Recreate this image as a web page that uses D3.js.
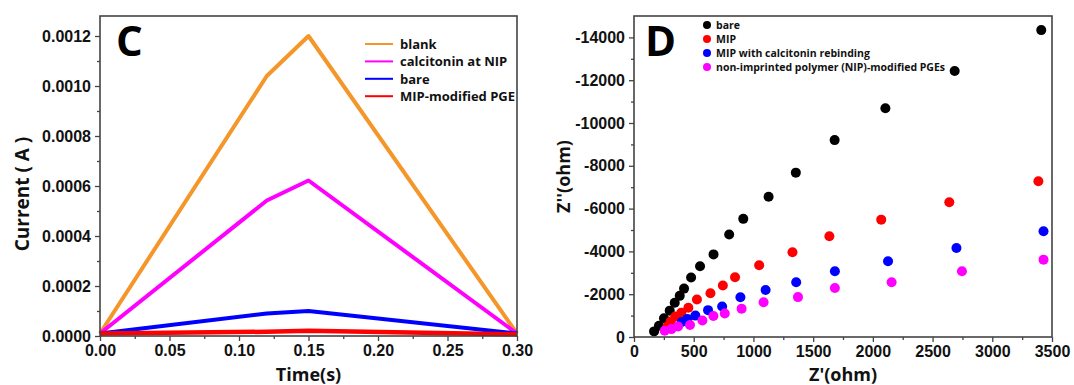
<!DOCTYPE html>
<html><head><meta charset="utf-8">
<script src="https://cdn.jsdelivr.net/npm/d3@7"></script>
<style>
body{margin:0;background:#fff;}
svg{display:block;font-family:"Open Sans",sans-serif;}
.tick text{font-weight:bold;}
</style></head>
<body>
<svg id="chart" width="1074" height="385"></svg>
<script>
// ---- Panel C data ----
const timeSeriesNames = ["blank", "calcitonin at NIP", "bare", "MIP-modified PGE"];
const timeSeriesColors = ["#f5962a", "#ff00ff", "#0000ff", "#ff0000"];
const blankCurrent = [[0, 0.00001], [0.12, 0.00104], [0.15, 0.0012], [0.30, 0.00001]];
const nipCurrent = [[0, 0.00001], [0.12, 0.000542], [0.15, 0.000622], [0.30, 0.00001]];
const bareCurrent = [[0, 0.00001], [0.12, 0.00009], [0.15, 0.0001], [0.30, 0.00001]];
const mipCurrent = [[0, 0.00001], [0.12, 0.000017], [0.15, 0.000021], [0.30, 0.000007]];
const timeTicks = [0, 0.05, 0.10, 0.15, 0.20, 0.25, 0.30];
const currentTicks = [0, 0.0002, 0.0004, 0.0006, 0.0008, 0.0010, 0.0012];

// ---- Panel D data (Z', Z'') ----
const eisSeriesNames = ["bare", "MIP", "MIP with calcitonin rebinding", "non-imprinted polymer (NIP)-modified PGEs"];
const eisSeriesColors = ["#000000", "#ff0000", "#0000ff", "#ff00ff"];
const eisBare = [[168,-262],[209,-523],[251,-877],[299,-1231],[341,-1600],[383,-1923],[419,-2262],[478,-2780],[553,-3310],[666,-3860],[797,-4790],[915,-5520],[1127,-6550],[1355,-7680],[1680,-9200],[2105,-10690],[2685,-12430],[3410,-14340]];
const eisMip = [[279,-492],[307,-723],[346,-954],[397,-1138],[455,-1370],[527,-1750],[640,-2045],[744,-2410],[846,-2790],[1048,-3355],[1327,-3962],[1636,-4712],[2070,-5484],[2640,-6300],[3386,-7274]];
const eisRebind = [[400,-700],[447,-846],[514,-1000],[620,-1255],[738,-1425],[891,-1855],[1102,-2195],[1358,-2560],[1682,-3073],[2127,-3540],[2700,-4159],[3429,-4938]];
const eisNip = [[257,-292],[313,-369],[369,-492],[469,-558],[573,-769],[665,-985],[760,-1100],[901,-1320],[1085,-1622],[1373,-1864],[1682,-2293],[2157,-2559],[2746,-3069],[3429,-3614]];
const zreTicks = [0, 500, 1000, 1500, 2000, 2500, 3000, 3500];
const zimTicks = [0, -2000, -4000, -6000, -8000, -10000, -12000, -14000];

const svg = d3.select("#chart");
const axisColor = "#444";

function styleAxis(g){
  g.select(".domain").remove();
  g.selectAll(".tick line").attr("stroke", axisColor).attr("stroke-width", 1.3);
  g.selectAll(".tick text").attr("fill", "#111").style("font-size", "16px").style("font-weight", "bold");
}
function frame(x0, x1, y0, y1){
  svg.append("rect").attr("x", x0).attr("y", y0).attr("width", x1 - x0).attr("height", y1 - y0)
    .attr("fill", "none").attr("stroke", axisColor).attr("stroke-width", 1.6);
}

// ================= Panel C =================
{
  const L = 100, R = 517, T = 16, B = 336;
  const x = d3.scaleLinear().domain([0, 0.30]).range([L, R]);
  const y = d3.scaleLinear().domain([0, 0.00128]).range([B, T]);

  const lineGen = d3.line().x(d => x(d[0])).y(d => y(d[1]));
  const series = [blankCurrent, nipCurrent, bareCurrent, mipCurrent];
  series.forEach((s, i) => {
    svg.append("path").datum(s).attr("d", lineGen).attr("fill", "none")
      .attr("stroke", timeSeriesColors[i]).attr("stroke-width", i === 3 ? 4.5 : 4)
      .attr("stroke-linejoin", "round");
  });

  const xMinor = d3.range(0.025, 0.30, 0.05);
  const yMinor = d3.range(0.0001, 0.00128, 0.0002);
  svg.append("g").attr("transform", `translate(0,${B})`)
    .call(d3.axisBottom(x).tickValues(xMinor).tickFormat("").tickSize(3)).call(styleAxis);
  svg.append("g").attr("transform", `translate(${L},0)`)
    .call(d3.axisLeft(y).tickValues(yMinor).tickFormat("").tickSize(3)).call(styleAxis);

  svg.append("g").attr("transform", `translate(0,${B})`)
    .call(d3.axisBottom(x).tickValues(timeTicks).tickFormat(d3.format(".2f")).tickSize(5).tickPadding(4))
    .call(styleAxis);
  svg.append("g").attr("transform", `translate(${L},0)`)
    .call(d3.axisLeft(y).tickValues(currentTicks).tickFormat(d3.format(".4f")).tickSize(5).tickPadding(4))
    .call(styleAxis);

  frame(L, R, T, B);

  svg.append("text").attr("x", (L + R) / 2).attr("y", 381).attr("text-anchor", "middle")
    .style("font-size", "18px").style("font-weight", "bold").attr("fill", "#111").text("Time(s)");
  svg.append("text").attr("transform", `translate(29,${(T + B) / 2 + 18}) rotate(-90)`)
    .attr("text-anchor", "middle").style("font-size", "19px").style("font-weight", "bold")
    .attr("fill", "#111").text("Current ( A )");
  svg.append("text").attr("x", 116).attr("y", 56).style("font-size", "42px")
    .style("font-weight", "bold").attr("fill", "#000").text("C");

  const lg = svg.append("g");
  timeSeriesNames.forEach((n, i) => {
    const cy = 44 + i * 17.4;
    lg.append("line").attr("x1", 365).attr("x2", 393).attr("y1", cy).attr("y2", cy)
      .attr("stroke", timeSeriesColors[i]).attr("stroke-width", 2);
    lg.append("text").attr("x", 400).attr("y", cy + 5).style("font-size", "13px")
      .style("font-weight", "bold").attr("fill", "#111").text(n);
  });
}

// ================= Panel D =================
{
  const L = 634, R = 1052, T = 16, B = 337;
  const x = d3.scaleLinear().domain([0, 3500]).range([L, R]);
  const y = d3.scaleLinear().domain([0, -15000]).range([B, T]);

  const xMinor = d3.range(250, 3500, 500);
  const yMinor = d3.range(-1000, -15000, -2000);
  svg.append("g").attr("transform", `translate(0,${B})`)
    .call(d3.axisBottom(x).tickValues(xMinor).tickFormat("").tickSize(3)).call(styleAxis);
  svg.append("g").attr("transform", `translate(${L},0)`)
    .call(d3.axisLeft(y).tickValues(yMinor).tickFormat("").tickSize(3)).call(styleAxis);

  svg.append("g").attr("transform", `translate(0,${B})`)
    .call(d3.axisBottom(x).tickValues(zreTicks).tickFormat(d => String(d)).tickSize(5).tickPadding(4))
    .call(styleAxis);
  svg.append("g").attr("transform", `translate(${L},0)`)
    .call(d3.axisLeft(y).tickValues(zimTicks).tickFormat(d => String(d)).tickSize(5).tickPadding(4))
    .call(styleAxis);

  const series = [eisBare, eisMip, eisRebind, eisNip];
  series.forEach((s, i) => {
    svg.append("g").selectAll("circle").data(s).join("circle")
      .attr("cx", d => x(d[0])).attr("cy", d => y(d[1])).attr("r", 5)
      .attr("fill", eisSeriesColors[i]);
  });

  frame(L, R, T, B);

  svg.append("text").attr("x", (L + R) / 2).attr("y", 381).attr("text-anchor", "middle")
    .style("font-size", "18px").style("font-weight", "bold").attr("fill", "#111").text("Z'(ohm)");
  svg.append("text").attr("transform", `translate(570,${(T + B) / 2}) rotate(-90)`)
    .attr("text-anchor", "middle").style("font-size", "18px").style("font-weight", "bold")
    .attr("fill", "#111").text("Z''(ohm)");
  svg.append("text").attr("x", 645).attr("y", 56).style("font-size", "42px")
    .style("font-weight", "bold").attr("fill", "#000").text("D");

  const lg = svg.append("g");
  eisSeriesNames.forEach((n, i) => {
    const cy = 25 + i * 14;
    lg.append("circle").attr("cx", 707).attr("cy", cy).attr("r", 4).attr("fill", eisSeriesColors[i]);
    lg.append("text").attr("x", 716).attr("y", cy + 4).style("font-size", "10.5px")
      .style("font-weight", "bold").attr("fill", "#111").text(n);
  });
}
</script>
</body></html>
